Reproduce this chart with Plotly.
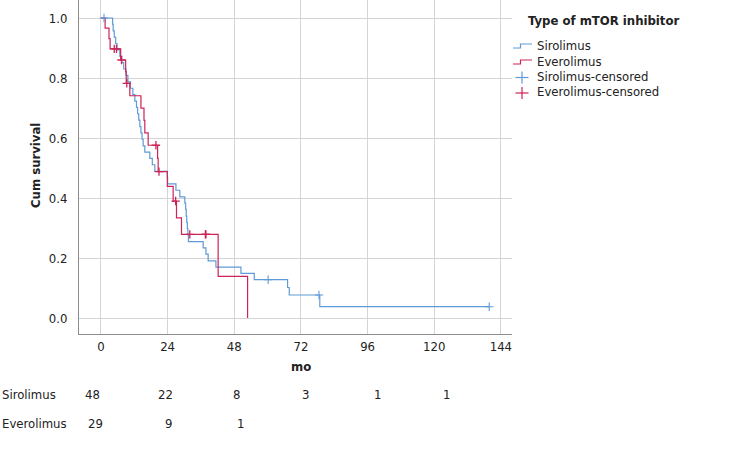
import plotly.graph_objects as go

# ---------------- data ----------------
sir_event_time = [4.2, 4.4, 4.8, 5.3, 5.8, 6.8, 7.5, 8.2, 9.0, 9.7, 10.6, 11.5, 12.2, 12.8,
                  13.2, 13.6, 14.0, 14.4, 14.8, 15.2, 15.8, 17.6, 18.5, 19.4, 23.9, 24.0,
                  27.0, 28.4, 30.2, 30.5, 30.7, 30.9, 31.1, 31.3, 31.5, 36.8, 37.8, 38.6,
                  41.4, 50.4, 55.2, 67.2, 67.8, 78.8]
sir_event_surv = [0.979, 0.957, 0.936, 0.915, 0.894, 0.872, 0.851, 0.830, 0.809, 0.787,
                  0.766, 0.745, 0.723, 0.702, 0.681, 0.660, 0.638, 0.617, 0.596, 0.574,
                  0.553, 0.532, 0.511, 0.489, 0.468, 0.447, 0.426, 0.404, 0.383, 0.362,
                  0.340, 0.319, 0.298, 0.277, 0.255, 0.234, 0.213, 0.191, 0.170, 0.149,
                  0.128, 0.102, 0.077, 0.038]
sir_last_time = 139.8
sir_cens_time = [1.1, 60.2, 78.5, 139.8]
sir_cens_surv = [1.0, 0.128, 0.077, 0.038]

eve_event_time = [1.5, 2.9, 3.3, 7.1, 8.9, 9.1, 10.4, 14.4, 15.5, 15.8, 17.0, 20.4, 20.6,
                  23.9, 26.0, 27.2, 29.0, 42.2, 52.8]
eve_event_surv = [0.966, 0.931, 0.897, 0.860, 0.821, 0.782, 0.741, 0.700, 0.659, 0.617,
                  0.576, 0.532, 0.488, 0.439, 0.390, 0.334, 0.279, 0.139, 0.0]
eve_last_time = 52.8
eve_cens_time = [4.8, 5.6, 7.4, 9.3, 19.8, 20.9, 26.9, 32.0, 37.6, 37.8]
eve_cens_surv = [0.897, 0.897, 0.860, 0.782, 0.576, 0.488, 0.390, 0.279, 0.279, 0.279]

x_ticks = [0, 24, 48, 72, 96, 120, 144]
y_ticks = [0.0, 0.2, 0.4, 0.6, 0.8, 1.0]
risk_groups = ["Sirolimus", "Everolimus"]
sir_at_risk = [48, 22, 8, 3, 1, 1]
eve_at_risk = [29, 9, 1]

# ---------------- style ----------------
BLUE = "#5f9bd8"
RED = "#cc2457"
FONT = "DejaVu Sans Condensed, DejaVu Sans, sans-serif"
TXT = "#222222"

L, R, T, B = 79, 512, 0, 334   # plot area in px
W, H = 734, 470


def px(x):
    return (x - L) / (R - L)


def py(y):
    return (B - y) / (B - T)


def steps(times, surv, last):
    xs = [0] + list(times) + [last]
    ys = [1.0] + list(surv) + [surv[-1]]
    return xs, ys


fig = go.Figure()
sx, sy = steps(sir_event_time, sir_event_surv, sir_last_time)
ex, ey = steps(eve_event_time, eve_event_surv, eve_last_time)
fig.add_trace(go.Scatter(x=sx, y=sy, mode="lines", line=dict(color=BLUE, width=1.2, shape="hv"),
                         name="Sirolimus", showlegend=False))
fig.add_trace(go.Scatter(x=ex, y=ey, mode="lines", line=dict(color=RED, width=1.2, shape="hv"),
                         name="Everolimus", showlegend=False))
fig.add_trace(go.Scatter(x=sir_cens_time, y=sir_cens_surv, mode="markers",
                         marker=dict(symbol="cross-thin", size=6, line=dict(width=1.1, color=BLUE)),
                         name="Sirolimus-censored", showlegend=False))
fig.add_trace(go.Scatter(x=eve_cens_time, y=eve_cens_surv, mode="markers",
                         marker=dict(symbol="cross-thin", size=6, line=dict(width=1.3, color=RED)),
                         name="Everolimus-censored", showlegend=False))

fig.update_layout(
    width=W, height=H,
    margin=dict(l=L, r=W - R, t=T, b=H - B, pad=0),
    paper_bgcolor="white", plot_bgcolor="white",
    font=dict(family=FONT, size=13, color=TXT),
    xaxis=dict(range=[-7.9, 148], tickvals=x_ticks, ticktext=[str(v) for v in x_ticks],
               showgrid=True, gridcolor="#d4d4d4", gridwidth=1, zeroline=False,
               showline=True, linecolor="#8c8c8c", linewidth=1, ticks="",
               ticklabelstandoff=0, tickfont=dict(size=13, family=FONT, color=TXT)),
    yaxis=dict(range=[-0.053, 1.06], tickvals=y_ticks, ticktext=[f"{v:.1f}" for v in y_ticks],
               showgrid=True, gridcolor="#d4d4d4", gridwidth=1, zeroline=False,
               showline=True, linecolor="#8c8c8c", linewidth=1, ticks="",
               ticklabelstandoff=8, tickfont=dict(size=13, family=FONT, color=TXT)),
)

ann = []
# axis titles
ann.append(dict(x=72, y=py(366), xref="x", yref="paper", text="<b>mo</b>", showarrow=False,
                xanchor="center", yanchor="middle", font=dict(size=13, family=FONT, color=TXT)))
ann.append(dict(x=px(35), y=py(166), xref="paper", yref="paper", text="<b>Cum survival</b>",
                showarrow=False, textangle=-90, xanchor="center", yanchor="middle",
                font=dict(size=13, family=FONT, color=TXT)))

# legend
ann.append(dict(x=px(526), y=py(20), xref="paper", yref="paper", text="<b>Type of mTOR inhibitor</b>",
                showarrow=False, xanchor="left", yanchor="middle",
                font=dict(size=13, family=FONT, color=TXT)))
leg_items = ["Sirolimus", "Everolimus", "Sirolimus-censored", "Everolimus-censored"]
leg_cols = [BLUE, RED, BLUE, RED]
leg_y = [45, 61, 76.5, 92]
shapes = []
for name, col, yy, k in zip(leg_items, leg_cols, leg_y, range(4)):
    ann.append(dict(x=px(535), y=py(yy), xref="paper", yref="paper", text=name, showarrow=False,
                    xanchor="left", yanchor="middle", font=dict(size=13, family=FONT, color=TXT)))
    if k < 2:
        path = (f"M {px(513)} {py(yy + 3)} L {px(520.5)} {py(yy + 3)} L {px(520.5)} {py(yy - 1)} "
                f"L {px(532)} {py(yy - 1)}")
        shapes.append(dict(type="path", xref="paper", yref="paper", path=path,
                           line=dict(color=col, width=1.2)))
    else:
        shapes.append(dict(type="line", xref="paper", yref="paper", x0=px(515.5), x1=px(528.5),
                           y0=py(yy + 1), y1=py(yy + 1), line=dict(color=col, width=1.2)))
        shapes.append(dict(type="line", xref="paper", yref="paper", x0=px(522), x1=px(522),
                           y0=py(yy - 5), y1=py(yy + 7), line=dict(color=col, width=1.2)))

# number-at-risk table
ann.append(dict(x=px(0), y=py(394), xref="paper", yref="paper", text=risk_groups[0], showarrow=False,
                xanchor="left", yanchor="middle", font=dict(size=13, family=FONT, color=TXT)))
ann.append(dict(x=px(0), y=py(423), xref="paper", yref="paper", text=risk_groups[1], showarrow=False,
                xanchor="left", yanchor="middle", font=dict(size=13, family=FONT, color=TXT)))
sir_shift = [-8.5, -2, 2.4, 4.7, 10, 12.3]
eve_shift = [-5.2, 0.6, 6.4]
for v, t, s in zip(sir_at_risk, x_ticks, sir_shift):
    ann.append(dict(x=t, y=py(394), xref="x", yref="paper", text=str(v), showarrow=False,
                    xanchor="center", yanchor="middle", xshift=s,
                    font=dict(size=13, family=FONT, color=TXT)))
for v, t, s in zip(eve_at_risk, x_ticks, eve_shift):
    ann.append(dict(x=t, y=py(423), xref="x", yref="paper", text=str(v), showarrow=False,
                    xanchor="center", yanchor="middle", xshift=s,
                    font=dict(size=13, family=FONT, color=TXT)))

fig.update_layout(annotations=ann, shapes=shapes)
fig.write_html("out.html", config={"displayModeBar": False},
               post_script="document.body.style.margin='0';")
